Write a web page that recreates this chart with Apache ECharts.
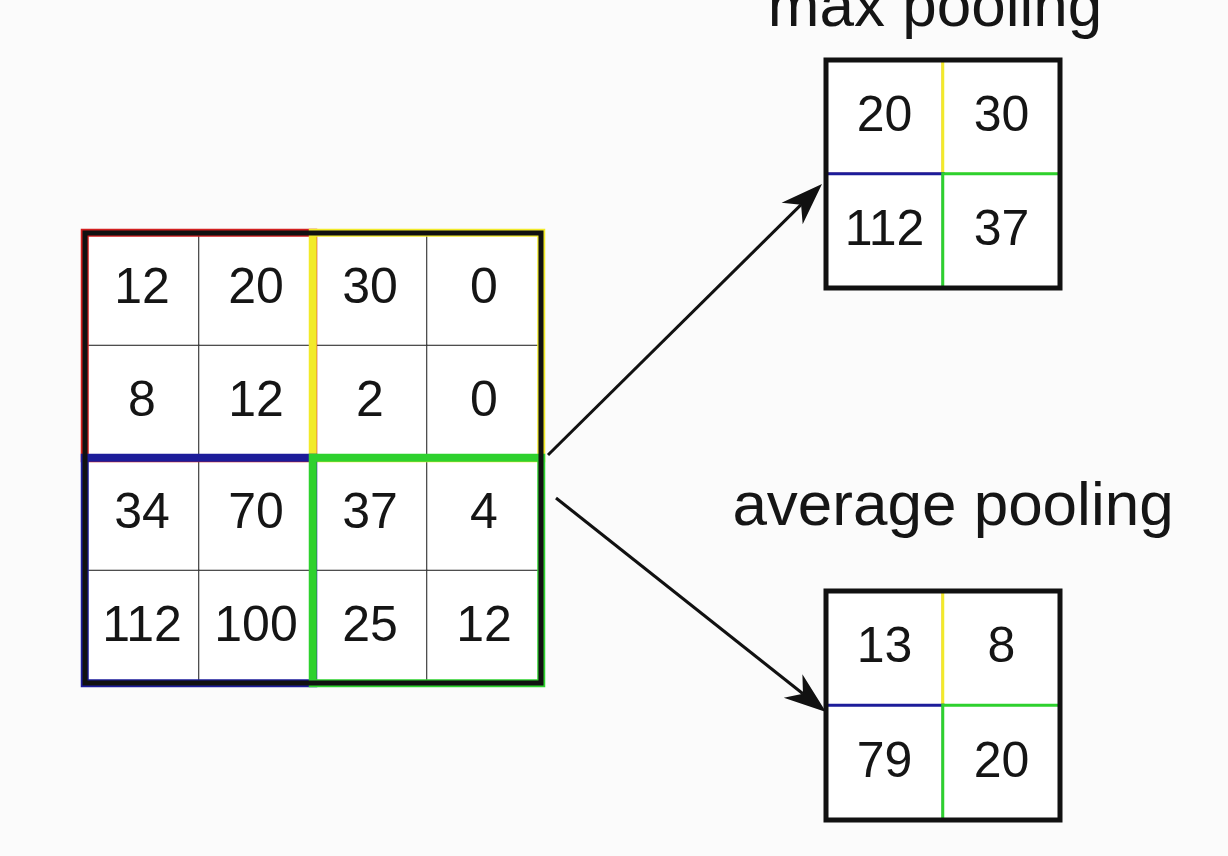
<!DOCTYPE html>
<html>
<head>
<meta charset="utf-8">
<style>
  * { margin: 0; padding: 0; }
  body { background: #fbfbfb; }
  #chart { width: 1228px; height: 856px; }
</style>
<script src="https://cdn.jsdelivr.net/npm/echarts@6/dist/echarts.min.js"></script>
</head>
<body>
<div id="chart"></div>
<script>
// input feature map, rows top to bottom
var inputRows = [
  [12, 20, 30, 0],
  [8, 12, 2, 0],
  [34, 70, 37, 4],
  [112, 100, 25, 12]
];
var maxRows = [[20, 30], [112, 37]];
var avgRows = [[13, 8], [79, 20]];
var blockColors = [['#d21f1f', '#f2ea2a'], ['#1c1c9a', '#2ed12e']];
var titles = ['max pooling', 'average pooling'];

function toCells(rows, colorFn) {
  var out = [];
  rows.forEach(function (r, y) {
    r.forEach(function (v, x) {
      var item = { value: [x, y, v] };
      if (colorFn) item.itemStyle = { borderColor: colorFn(x, y), borderWidth: 3 };
      out.push(item);
    });
  });
  return out;
}
function cats(n) { var a = []; for (var i = 0; i < n; i++) a.push('c' + i); return a; }

var grids = [
  { left: 85, top: 233, width: 456, height: 450 },
  { left: 85, top: 233, width: 456, height: 450 },
  { left: 826, top: 60, width: 234, height: 228 },
  { left: 826, top: 591, width: 234, height: 229 }
];
var sizes = [4, 2, 2, 2];

var chart = echarts.init(document.getElementById('chart'));
var label = {
  show: true, fontSize: 50, color: '#151515', fontFamily: 'Liberation Sans, Arial',
  formatter: function (p) { return p.value[2]; }
};

function arrow(x1, y1, x2, y2) {
  var a = Math.atan2(y2 - y1, x2 - x1), L = 42, W = 15;
  var bx = x2 - L * Math.cos(a), by = y2 - L * Math.sin(a);
  var mx = x2 - L * 0.7 * Math.cos(a), my = y2 - L * 0.7 * Math.sin(a);
  return [
    { type: 'line', shape: { x1: x1, y1: y1, x2: mx, y2: my }, style: { stroke: '#111', lineWidth: 3 } },
    { type: 'polygon', shape: { points: [[x2, y2],
        [bx + W * Math.sin(a), by - W * Math.cos(a)], [mx, my],
        [bx - W * Math.sin(a), by + W * Math.cos(a)]] }, style: { fill: '#111' } }
  ];
}

// black outer frames drawn on top of the cells
var frames = [0, 2, 3].map(function (i) {
  var g = grids[i];
  return { type: 'rect', z: 100, shape: { x: g.left, y: g.top, width: g.width, height: g.height },
    style: { fill: 'none', stroke: '#111', lineWidth: 5 } };
});

chart.setOption({
  backgroundColor: '#fbfbfb',
  grid: grids.map(function (g) { return Object.assign({ show: false }, g); }),
  xAxis: sizes.map(function (n, i) { return { type: 'category', data: cats(n), gridIndex: i, show: false }; }),
  yAxis: sizes.map(function (n, i) { return { type: 'category', data: cats(n), gridIndex: i, inverse: true, show: false }; }),
  series: [
    { type: 'heatmap', xAxisIndex: 0, yAxisIndex: 0, data: toCells(inputRows), label: label,
      itemStyle: { color: '#ffffff', borderColor: '#222', borderWidth: 1 } },
    { type: 'heatmap', xAxisIndex: 1, yAxisIndex: 1, z: 3,
      data: toCells([[0, 0], [0, 0]], function (x, y) { return blockColors[y][x]; }).map(function (d) {
        d.itemStyle.borderWidth = 8; return d; }),
      itemStyle: { color: 'rgba(0,0,0,0)' }, label: { show: false } },
    { type: 'heatmap', xAxisIndex: 2, yAxisIndex: 2, data: toCells(maxRows, function (x, y) { return blockColors[y][x]; }),
      label: label, itemStyle: { color: '#ffffff' } },
    { type: 'heatmap', xAxisIndex: 3, yAxisIndex: 3, data: toCells(avgRows, function (x, y) { return blockColors[y][x]; }),
      label: label, itemStyle: { color: '#ffffff' } }
  ],
  graphic: [
    { type: 'text', x: 935, y: 40, style: { text: titles[0], font: '62px Liberation Sans, Arial', fill: '#151515',
        textAlign: 'center', textVerticalAlign: 'bottom' } },
    { type: 'text', x: 953, y: 508, style: { text: titles[1], font: '62px Liberation Sans, Arial', fill: '#151515',
        textAlign: 'center', textVerticalAlign: 'middle' } }
  ].concat(frames, arrow(548, 455, 822, 184), arrow(556, 498, 826, 712))
});
</script>
</body>
</html>
